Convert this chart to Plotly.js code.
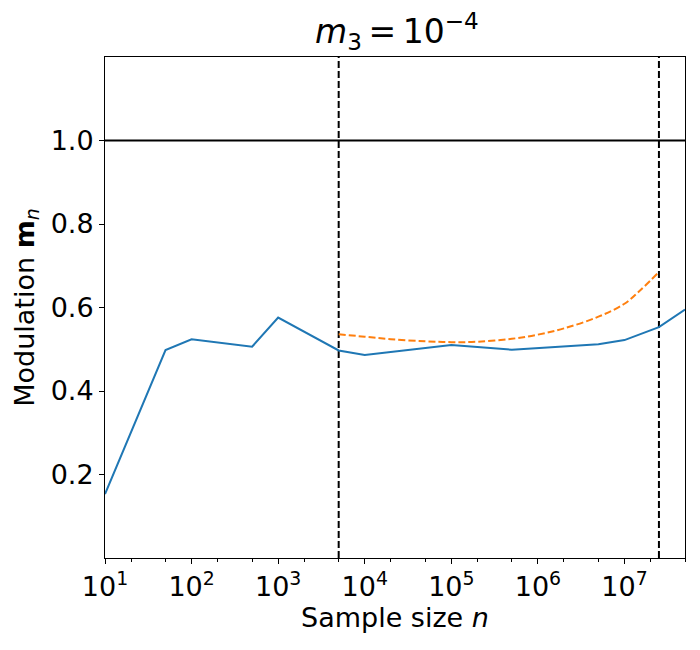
<!DOCTYPE html>
<html>
<head>
<meta charset="utf-8">
<script src="https://cdn.plot.ly/plotly-3.0.1.min.js"></script>
<style>
  body { margin: 0; background: white; }
  #chart { width: 700px; height: 650px; }
</style>
</head>
<body>
<div id="chart"></div>
<script>
// measured modulation per sample size
var sampleSizes = [10, 50, 100, 500, 1000, 5000, 10000, 100000, 500000, 5000000, 10000000, 25000000, 50000000];
var modulation = [0.153, 0.498, 0.524, 0.506, 0.576, 0.497, 0.486, 0.510, 0.499, 0.512, 0.522, 0.553, 0.595];

// predicted modulation (dashed orange)
var predSizes = [5000, 10000, 20000, 50000, 100000, 200000, 500000, 1000000, 2000000, 5000000, 10000000, 15000000, 25000000];
var predModulation = [0.536, 0.530, 0.524, 0.519, 0.517, 0.518, 0.525, 0.535, 0.550, 0.578, 0.609, 0.640, 0.685];

// reference lines
var vlinePositions = [5000, 25000000];
var hlineLevel = 1.0;

var xTickVals = [10, 100, 1000, 10000, 100000, 1000000, 10000000];
var xTickText = ['10<sup>1</sup>', '10<sup>2</sup>', '10<sup>3</sup>', '10<sup>4</sup>',
                 '10<sup>5</sup>', '10<sup>6</sup>', '10<sup>7</sup>'];
var yTickVals = [0.2, 0.4, 0.6, 0.8, 1.0];

var xMin = 10, xMax = 50000000;
var yMin = 0.0, yMax = 1.2;

var traces = [];

// horizontal line at 1
traces.push({
    x: [xMin, xMax],
    y: [hlineLevel, hlineLevel],
    mode: 'lines',
    line: {color: 'black', width: 2},
    hoverinfo: 'skip'
});

// vertical dashed lines
for (let i = 0; i < vlinePositions.length; i++) {
    traces.push({
        x: [vlinePositions[i], vlinePositions[i]],
        y: [yMin, yMax],
        mode: 'lines',
        line: {color: 'black', width: 2, dash: '7px,3px'},
        hoverinfo: 'skip'
    });
}

traces.push({
    x: sampleSizes,
    y: modulation,
    mode: 'lines',
    line: {color: '#1f77b4', width: 2}
});

traces.push({
    x: predSizes,
    y: predModulation,
    mode: 'lines',
    line: {color: '#ff7f0e', width: 2, dash: '7px,3px', shape: 'spline'}
});

var layout = {
    width: 700,
    height: 650,
    showlegend: false,
    paper_bgcolor: 'white',
    plot_bgcolor: 'white',
    margin: {l: 105, r: 15, t: 57, b: 92},
    font: {family: 'DejaVu Sans', color: 'black'},
    title: {
        text: '<i>m</i><sub>3</sub>\u2009=\u200910<sup>\u22124</sup>',
        font: {size: 33, family: 'DejaVu Sans', color: 'black'},
        x: 0.567,
        xanchor: 'center',
        y: 0.952,
        yanchor: 'middle'
    },
    xaxis: {
        type: 'log',
        range: [Math.log10(xMin), Math.log10(xMax)],
        tickvals: xTickVals,
        ticktext: xTickText,
        ticks: 'outside',
        ticklen: 5,
        tickwidth: 1,
        tickcolor: 'black',
        tickfont: {size: 27},
        showgrid: false,
        zeroline: false,
        showline: true,
        linecolor: 'black',
        linewidth: 1,
        mirror: true,
        minor: {ticks: 'outside', ticklen: 3, tickcolor: 'black', showgrid: false},
        title: {text: 'Sample size <i>n</i>', font: {size: 27}, standoff: 6}
    },
    yaxis: {
        range: [yMin, yMax],
        tickvals: yTickVals,
        tickformat: '.1f',
        ticks: 'outside',
        ticklen: 5,
        tickwidth: 1,
        tickcolor: 'black',
        tickfont: {size: 27},
        showgrid: false,
        zeroline: false,
        showline: true,
        linecolor: 'black',
        linewidth: 1,
        mirror: true,
        title: {text: 'Modulation <b>m</b><sub><i>n</i></sub>', font: {size: 27}, standoff: 8}
    }
};

Plotly.newPlot('chart', traces, layout, {displayModeBar: false, staticPlot: true});
</script>
</body>
</html>
